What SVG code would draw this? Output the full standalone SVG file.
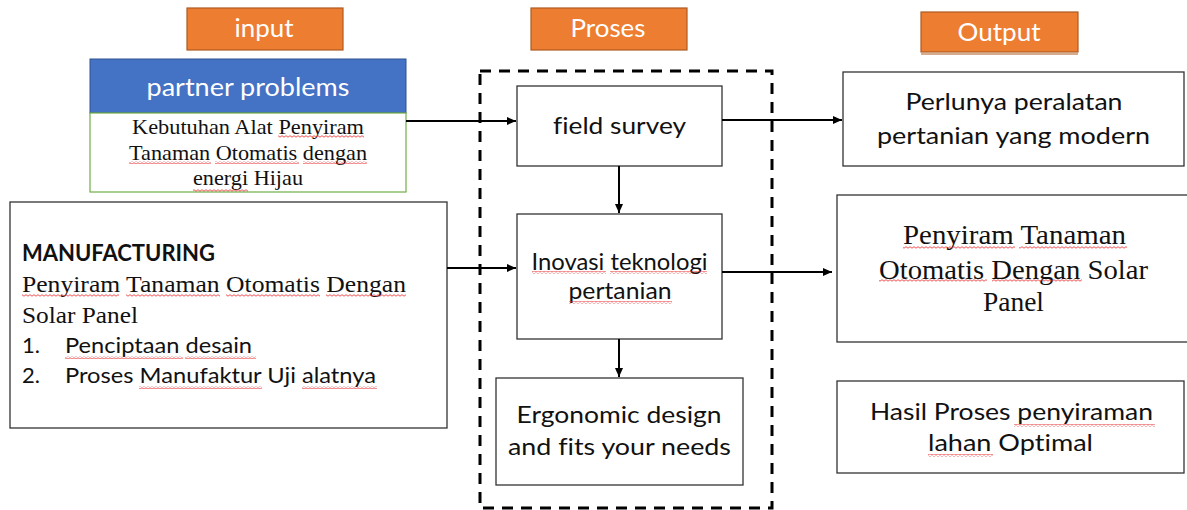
<svg xmlns="http://www.w3.org/2000/svg" width="1187" height="510" viewBox="0 0 1187 510">
<style>
text{font-variant-ligatures:none}
.hdr{fill:#ED7D31;stroke:#AE5A21;stroke-width:1.2}
.box{fill:#fff;stroke:#333;stroke-width:1.3}
.ht{font-family:Lato,"Liberation Sans",sans-serif;font-size:25px;fill:#fff;text-anchor:middle}
.st{font-family:Lato,"Liberation Sans",sans-serif;font-size:23px;fill:#111;text-anchor:middle}
.sl{font-family:Lato,"Liberation Sans",sans-serif;font-size:22px;fill:#111}
.sr{font-family:"Liberation Serif",serif;fill:#111}
.ln{stroke:#000;stroke-width:2;fill:none}
.sq{fill:url(#wave)}
</style>
<defs>
<pattern id="wave" width="4" height="3" patternUnits="userSpaceOnUse">
<path d="M0 2.2 L2 0.7 L4 2.2" fill="none" stroke="#e8282b" stroke-width="0.8"/>
</pattern>
<marker id="ah" markerWidth="10" markerHeight="10" refX="9" refY="5" orient="auto" markerUnits="userSpaceOnUse">
<path d="M0 1 L9 5 L0 9 Z" fill="#000"/>
</marker>
</defs>

<g id="hdr-input">
<rect class="hdr" x="187" y="8" width="156" height="42"/>
<text class="ht" x="264" y="37" textLength="59" lengthAdjust="spacingAndGlyphs">input</text>
</g>
<g id="hdr-proses">
<rect class="hdr" x="531" y="8" width="156" height="42"/>
<text class="ht" x="608" y="37" textLength="75" lengthAdjust="spacingAndGlyphs">Proses</text>
</g>
<g id="hdr-output">
<rect class="hdr" x="921" y="12" width="157" height="40"/>
<line x1="921" y1="54" x2="1078" y2="54" stroke="#AE5A21" stroke-width="1.2"/>
<text class="ht" x="999" y="41" textLength="83" lengthAdjust="spacingAndGlyphs">Output</text>
</g>

<g id="partner">
<rect x="90" y="59" width="316" height="54" fill="#4472C4" stroke="#2F528F" stroke-width="1"/>
<rect x="90" y="113" width="316" height="79" fill="#fff" stroke="#70AD47" stroke-width="1.2"/>
<text class="ht" x="248" y="96" font-size="27" textLength="203" lengthAdjust="spacingAndGlyphs">partner problems</text>
<text class="sr" font-size="21" text-anchor="middle" x="248" y="134" textLength="232" lengthAdjust="spacingAndGlyphs">Kebutuhan Alat Penyiram</text>
<text class="sr" font-size="21" text-anchor="middle" x="248" y="160" textLength="238" lengthAdjust="spacingAndGlyphs">Tanaman Otomatis dengan</text>
<text class="sr" font-size="21" text-anchor="middle" x="248" y="185" textLength="110" lengthAdjust="spacingAndGlyphs">energi Hijau</text>
<rect class="sq" x="278" y="135" width="86" height="3"/>
<rect class="sq" x="129" y="161" width="82" height="3"/>
<rect class="sq" x="215" y="161" width="84" height="3"/>
<rect class="sq" x="303" y="161" width="64" height="3"/>
<rect class="sq" x="193" y="189" width="55" height="3"/>
</g>

<g id="manufacturing">
<rect class="box" x="10" y="202" width="437" height="226"/>
<text class="sl" x="22" y="261" font-weight="bold" font-size="20" textLength="193" lengthAdjust="spacingAndGlyphs">MANUFACTURING</text>
<text class="sr" x="22" y="292" font-size="24" textLength="384" lengthAdjust="spacingAndGlyphs">Penyiram Tanaman Otomatis Dengan</text>
<text class="sr" x="22" y="323" font-size="24" textLength="116" lengthAdjust="spacingAndGlyphs">Solar Panel</text>
<text class="sl" x="22" y="353">1.</text>
<text class="sl" x="65" y="353" textLength="187" lengthAdjust="spacingAndGlyphs">Penciptaan desain</text>
<text class="sl" x="22" y="383">2.</text>
<text class="sl" x="65" y="383" textLength="311" lengthAdjust="spacingAndGlyphs">Proses Manufaktur Uji alatnya</text>
<rect class="sq" x="22" y="294" width="97" height="3"/>
<rect class="sq" x="126" y="294" width="94" height="3"/>
<rect class="sq" x="226" y="294" width="94" height="3"/>
<rect class="sq" x="326" y="294" width="80" height="3"/>
<rect class="sq" x="65" y="356" width="118" height="3"/>
<rect class="sq" x="185" y="356" width="71" height="3"/>
<rect class="sq" x="139" y="386" width="123" height="3"/>
<rect class="sq" x="302" y="386" width="75" height="3"/>
</g>

<g id="proses-group">
<rect x="480" y="71" width="292" height="437" fill="none" stroke="#000" stroke-width="3" stroke-dasharray="11 8"/>
</g>

<g id="field-survey">
<rect class="box" x="517" y="86" width="205" height="80"/>
<text class="st" x="619.5" y="134" textLength="133" lengthAdjust="spacingAndGlyphs">field survey</text>
</g>

<g id="inovasi">
<rect class="box" x="517" y="214" width="205" height="125"/>
<text class="st" x="619.5" y="270" textLength="176" lengthAdjust="spacingAndGlyphs">Inovasi teknologi</text>
<text class="st" x="620" y="299" textLength="103" lengthAdjust="spacingAndGlyphs">pertanian</text>
<rect class="sq" x="532" y="271" width="74" height="3"/>
<rect class="sq" x="610" y="271" width="97" height="3"/>
<rect class="sq" x="569" y="301" width="103" height="3"/>
</g>

<g id="ergonomic">
<rect class="box" x="496" y="378" width="247" height="107"/>
<text class="st" x="619" y="423" textLength="205" lengthAdjust="spacingAndGlyphs">Ergonomic design</text>
<text class="st" x="619.5" y="455" textLength="223" lengthAdjust="spacingAndGlyphs">and fits your needs</text>
</g>

<g id="out-perlunya">
<rect class="box" x="843" y="72" width="341" height="94"/>
<text class="st" x="1014" y="110" font-size="24" textLength="217" lengthAdjust="spacingAndGlyphs">Perlunya peralatan</text>
<text class="st" x="1013.5" y="144" font-size="24" textLength="273" lengthAdjust="spacingAndGlyphs">pertanian yang modern</text>
</g>

<g id="out-penyiram">
<rect class="box" x="837" y="195" width="360" height="147"/>
<text class="sr" font-size="28" text-anchor="middle" x="1014.5" y="244" textLength="223" lengthAdjust="spacingAndGlyphs">Penyiram Tanaman</text>
<text class="sr" font-size="28" text-anchor="middle" x="1013.5" y="279" textLength="269" lengthAdjust="spacingAndGlyphs">Otomatis Dengan Solar</text>
<text class="sr" font-size="28" text-anchor="middle" x="1013.5" y="311" textLength="61" lengthAdjust="spacingAndGlyphs">Panel</text>
<rect class="sq" x="903" y="246" width="112" height="3"/>
<rect class="sq" x="1019" y="246" width="108" height="3"/>
<rect class="sq" x="879" y="279" width="108" height="3"/>
<rect class="sq" x="992" y="279" width="90" height="3"/>
</g>

<g id="out-hasil">
<rect class="box" x="837" y="381" width="347" height="92"/>
<text class="st" x="1011.5" y="420" font-size="24" textLength="283" lengthAdjust="spacingAndGlyphs">Hasil Proses penyiraman</text>
<text class="st" x="1010.5" y="451" font-size="24" textLength="165" lengthAdjust="spacingAndGlyphs">lahan Optimal</text>
<rect class="sq" x="1014" y="424" width="141" height="3"/>
<rect class="sq" x="928" y="454" width="65" height="3"/>
</g>

<g id="connectors">
<line class="ln" x1="406" y1="121" x2="516" y2="121" marker-end="url(#ah)"/>
<line class="ln" x1="447" y1="268" x2="516" y2="268" marker-end="url(#ah)"/>
<line class="ln" x1="619" y1="166" x2="619" y2="213" marker-end="url(#ah)"/>
<line class="ln" x1="619" y1="339" x2="619" y2="377" marker-end="url(#ah)"/>
<line class="ln" x1="722" y1="120" x2="842" y2="120" marker-end="url(#ah)"/>
<line class="ln" x1="722" y1="272" x2="832" y2="272" marker-end="url(#ah)"/>
</g>
</svg>
